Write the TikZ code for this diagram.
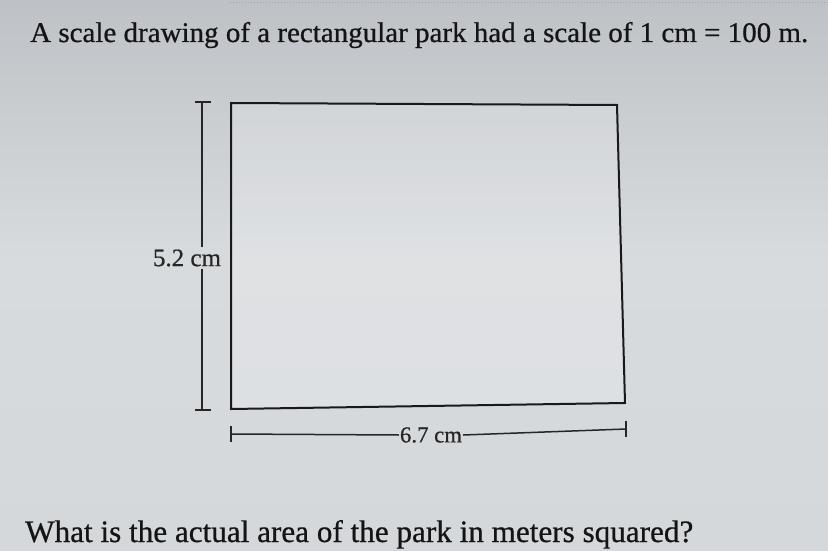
\documentclass[tikz,border=0pt]{standalone}
\usepackage{fontspec}
\setmainfont{Liberation Serif}[FakeBold=0.7]
\usepackage{graphicx}
\begin{document}
\begin{tikzpicture}[x=1pt,y=-1pt,
  inkline/.style={draw=black!90, line width=2pt},
  dimline/.style={draw=black!85, line width=1.8pt},
  lbl/.style={inner sep=2pt, text=black!85}]
\useasboundingbox (0,0) rectangle (828,551);
\definecolor{bgtop}{HTML}{BEC2C6}
\definecolor{bgmid}{HTML}{D8DBDE}
\definecolor{bgbot}{HTML}{D4D8DB}
\shade[top color=bgtop, bottom color=bgmid] (0,0) rectangle (828,260);
\shade[top color=bgmid, bottom color=bgbot] (0,260) rectangle (828,551);
\fill[white, opacity=0.18] (231,103) -- (617,105) -- (625,403) -- (231,409) -- cycle;
\draw[gray!70, dotted, line width=1pt] (230,3) -- (828,3);
% title
\node[anchor=base west, inner sep=0pt, text=black!92] (title) at (30,42)
  {\resizebox{778pt}{20pt}{\fontsize{28}{30}\selectfont A scale drawing of a rectangular park had a scale of 1 cm = 100 m.}};
% rectangle
\coordinate (tl) at (231,103);
\coordinate (tr) at (617,105);
\coordinate (br) at (625,403);
\coordinate (bl) at (231,409);
\draw[inkline, line join=miter] (tl) -- (tr) -- (br) -- (bl) -- cycle;
% vertical dimension
\coordinate (vt) at (202,102);
\coordinate (vb) at (202,410);
\node[lbl] (vlab) at (187,258) {\resizebox{68pt}{!}{\fontsize{22}{24}\selectfont 5.2 cm}};
\draw[dimline] (vt) -- (vt |- vlab.north);
\draw[dimline] (vb |- vlab.south) -- (vb);
\draw[dimline] ([xshift=-7pt]vt) -- ([xshift=9pt]vt);
\draw[dimline] ([xshift=-7pt]vb) -- ([xshift=9pt]vb);
% horizontal dimension
\coordinate (hl) at (231,434);
\coordinate (hr) at (626,429);
\node[lbl, inner sep=1pt] (hlab) at (431,435) {\resizebox{62pt}{!}{\fontsize{22}{24}\selectfont 6.7 cm}};
\draw[dimline, line width=1.5pt] (hl) -- (hlab.west);
\draw[dimline, line width=1.5pt] (hlab.east) -- (hr);
\draw[dimline] ([yshift=-8pt]hl) -- ([yshift=8pt]hl);
\draw[dimline] ([yshift=-8pt]hr) -- ([yshift=8pt]hr);
% question
\node[anchor=base west, inner sep=0pt, text=black!92] (question) at (25,542)
  {\resizebox{668pt}{!}{\fontsize{29}{31}\selectfont What is the actual area of the park in meters squared?}};
\end{tikzpicture}
\end{document}
